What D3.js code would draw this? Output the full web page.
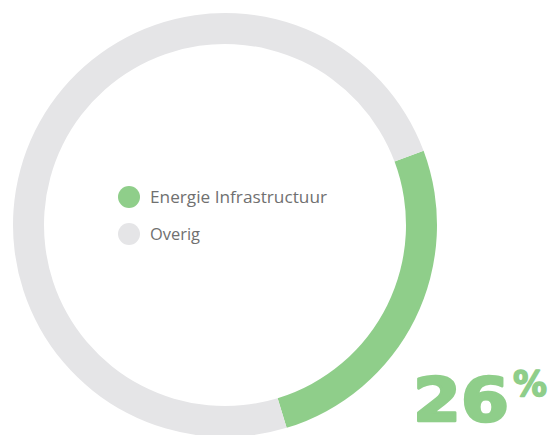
<!DOCTYPE html>
<html><head><meta charset="utf-8">
<script src="https://cdn.jsdelivr.net/npm/d3@7"></script>
<style>html,body{margin:0;padding:0;background:#fff;}svg{display:block;}</style>
</head><body>
<svg id="chart" width="556" height="435"></svg>
<script>
const categories = ["Energie Infrastructuur", "Overig"];
const values = [26, 74];
const colors = ["#8fce8a", "#e5e5e7"];
const bigLabel = "26";

const svg = d3.select("#chart");
const cx = 225, cy = 225, rOuter = 212, rInner = 181;
const startDeg = 69.5;

const pie = d3.pie().sort(null).value(d => d)
  .startAngle(startDeg * Math.PI / 180)
  .endAngle(startDeg * Math.PI / 180 + 2 * Math.PI);
const arc = d3.arc().innerRadius(rInner).outerRadius(rOuter);

const g = svg.append("g").attr("transform", `translate(${cx},${cy})`);
g.selectAll("path").data(pie(values)).join("path")
  .attr("d", arc).attr("fill", (d, i) => colors[i]);

const legendWidths = [177, 50];
const leg = svg.append("g").attr("transform", "translate(129,197)");
const items = leg.selectAll("g").data(categories).join("g")
  .attr("transform", (d, i) => `translate(0,${i * 37})`);
items.append("circle").attr("r", 11).attr("fill", (d, i) => colors[i]);
items.append("text").attr("x", 21).attr("y", 6)
  .attr("font-family", "'Open Sans', sans-serif").attr("font-size", 16)
  .attr("textLength", (d, i) => legendWidths[i]).attr("lengthAdjust", "spacingAndGlyphs")
  .attr("fill", "#707070").text(d => d);

const t = svg.append("text").attr("x", 413).attr("y", 420.5)
  .attr("font-family", "'DejaVu Sans', sans-serif").attr("font-weight", 700)
  .attr("fill", colors[0]).attr("stroke", colors[0]).attr("stroke-linejoin", "round");
t.append("tspan").attr("font-size", 60).attr("stroke-width", 2.5).attr("textLength", 96)
  .attr("lengthAdjust", "spacingAndGlyphs").text(bigLabel);
t.append("tspan").attr("x", 513).attr("y", 395.5).attr("font-size", 35).attr("stroke-width", 1.5)
  .attr("textLength", 34).attr("lengthAdjust", "spacingAndGlyphs").text("%");
</script>
</body></html>
